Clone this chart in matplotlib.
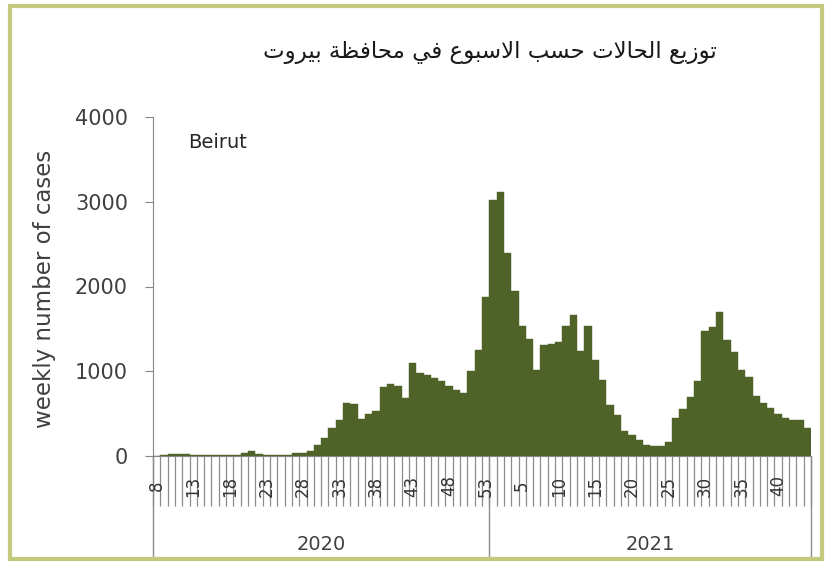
import matplotlib
matplotlib.use('Agg')
import matplotlib.pyplot as plt
import matplotlib.transforms as mtransforms
from matplotlib.patches import Rectangle
import numpy as np

# weekly case counts, Beirut
weeks_2020 = list(range(8, 54))
cases_2020 = [2, 10, 20, 25, 20, 15, 15, 10, 10, 10, 8, 10, 30, 60, 20, 10, 8, 10, 15, 30,
              40, 60, 130, 210, 330, 430, 630, 610, 440, 490, 530, 810, 850, 830, 680,
              1100, 980, 950, 920, 880, 830, 780, 740, 1000, 1250, 1880]
weeks_2021 = list(range(1, 45))
cases_2021 = [3020, 3120, 2400, 1950, 1530, 1380, 1020, 1310, 1320, 1340, 1530, 1660,
              1240, 1530, 1130, 900, 600, 480, 300, 250, 190, 130, 120, 120, 170, 450,
              560, 700, 880, 1480, 1520, 1700, 1370, 1230, 1020, 935, 710, 630, 570, 500,
              450, 430, 420, 330]
years = ['2020', '2021']

title_ar = 'توزيع الحالات حسب الاسبوع في محافظة بيروت'
ylabel = 'weekly number of cases'
region = 'Beirut'

# matplotlib does no arabic shaping, so pick presentation forms by hand
FORMS = {
    'ا': (0xFE8D, 0xFE8E), 'ة': (0xFE93, 0xFE94), 'ر': (0xFEAD, 0xFEAE),
    'ز': (0xFEAF, 0xFEB0), 'و': (0xFEED, 0xFEEE),
    'ب': (0xFE8F, 0xFE90, 0xFE91, 0xFE92), 'ت': (0xFE95, 0xFE96, 0xFE97, 0xFE98),
    'ح': (0xFEA1, 0xFEA2, 0xFEA3, 0xFEA4), 'س': (0xFEB1, 0xFEB2, 0xFEB3, 0xFEB4),
    'ظ': (0xFEC5, 0xFEC6, 0xFEC7, 0xFEC8), 'ع': (0xFEC9, 0xFECA, 0xFECB, 0xFECC),
    'ف': (0xFED1, 0xFED2, 0xFED3, 0xFED4), 'ق': (0xFED5, 0xFED6, 0xFED7, 0xFED8),
    'ل': (0xFEDD, 0xFEDE, 0xFEDF, 0xFEE0), 'م': (0xFEE1, 0xFEE2, 0xFEE3, 0xFEE4),
    'ي': (0xFEF1, 0xFEF2, 0xFEF3, 0xFEF4),
}
LAM_ALEF = (0xFEFB, 0xFEFC)


def shape_word(word):
    out = []
    k = 0
    prev_dual = False
    while k < len(word):
        c = word[k]
        if c == 'ل' and k + 1 < len(word) and word[k + 1] == 'ا':
            out.append(chr(LAM_ALEF[1 if prev_dual else 0]))
            prev_dual = False
            k += 2
            continue
        f = FORMS[c]
        dual = len(f) == 4
        nxt = dual and k + 1 < len(word)
        if prev_dual and nxt:
            g = f[3]
        elif prev_dual:
            g = f[1]
        elif nxt:
            g = f[2]
        else:
            g = f[0]
        out.append(chr(g))
        prev_dual = dual
        k += 1
    return ''.join(out)


def arabic(text):
    shaped = ' '.join(shape_word(w) for w in text.split(' '))
    return shaped[::-1]


cases = cases_2020 + cases_2021
weeks = weeks_2020 + weeks_2021
x = np.arange(len(cases))

plt.rcParams['font.family'] = ['DejaVu Sans']

fig = plt.figure(figsize=(8.26, 5.62), dpi=100)
W, H = 826, 562
left, right, bottom, top = 153, 811, 456, 117
ax = fig.add_axes([left / W, 1 - bottom / H, (right - left) / W, (bottom - top) / H])

ax.bar(x, cases, width=1.0, color='#4f6228', edgecolor='#4f6228', linewidth=0.3)
ax.set_xlim(-0.5, len(cases) - 0.5)
ax.set_ylim(0, 4000)
ax.set_yticks([0, 1000, 2000, 3000, 4000])
ax.tick_params(axis='y', length=6, color='#868686', labelsize=15, pad=12, labelcolor='#404040')
ax.set_xticks([])
for s in ['top', 'right']:
    ax.spines[s].set_visible(False)
ax.spines['left'].set_color('#868686')
ax.spines['bottom'].set_color('#868686')

axh = bottom - top
trans = mtransforms.blended_transform_factory(ax.transData, ax.transAxes)
# category tick row
ax.vlines(np.arange(len(cases) + 1) - 0.5, -50 / axh, 0, transform=trans,
          color='#8c8c8c', lw=0.9, clip_on=False)
for i, wk in enumerate(weeks):
    if i % 5 == 0:
        ax.text(i, -30 / axh, str(wk), transform=trans, rotation=90, ha='center',
                va='center', fontsize=12, color='#333333', clip_on=False)
# year row
n20 = len(cases_2020)
ax.vlines([-0.5, n20 - 0.5, len(cases) - 0.5], -102 / axh, 0, transform=trans,
          color='#8c8c8c', lw=1.0, clip_on=False)
ax.text((n20 - 1) / 2, -89 / axh, years[0], transform=trans, ha='center', va='center',
        fontsize=14, color='#404040')
ax.text(n20 + (len(cases_2021) - 1) / 2, -89 / axh, years[1], transform=trans,
        ha='center', va='center', fontsize=14, color='#404040')

ax.text((188 - left) / (right - left), (bottom - 143) / axh, region, transform=ax.transAxes,
        ha='left', va='center', fontsize=14, color='#262626')

fig.text(490 / W, 1 - 53 / H, arabic(title_ar), ha='center', va='center', fontsize=16.5,
         color='#1a1a1a')
fig.text(45 / W, 1 - 289 / H, ylabel, rotation=90, ha='center', va='center',
         fontsize=16.5, color='#404040')

fig.patches.append(Rectangle((10 / W, 1 - 559 / H), 812 / W, 553 / H, transform=fig.transFigure,
                             fill=False, edgecolor='#c5c97e', lw=3))

fig.savefig('out.png', dpi=100)
